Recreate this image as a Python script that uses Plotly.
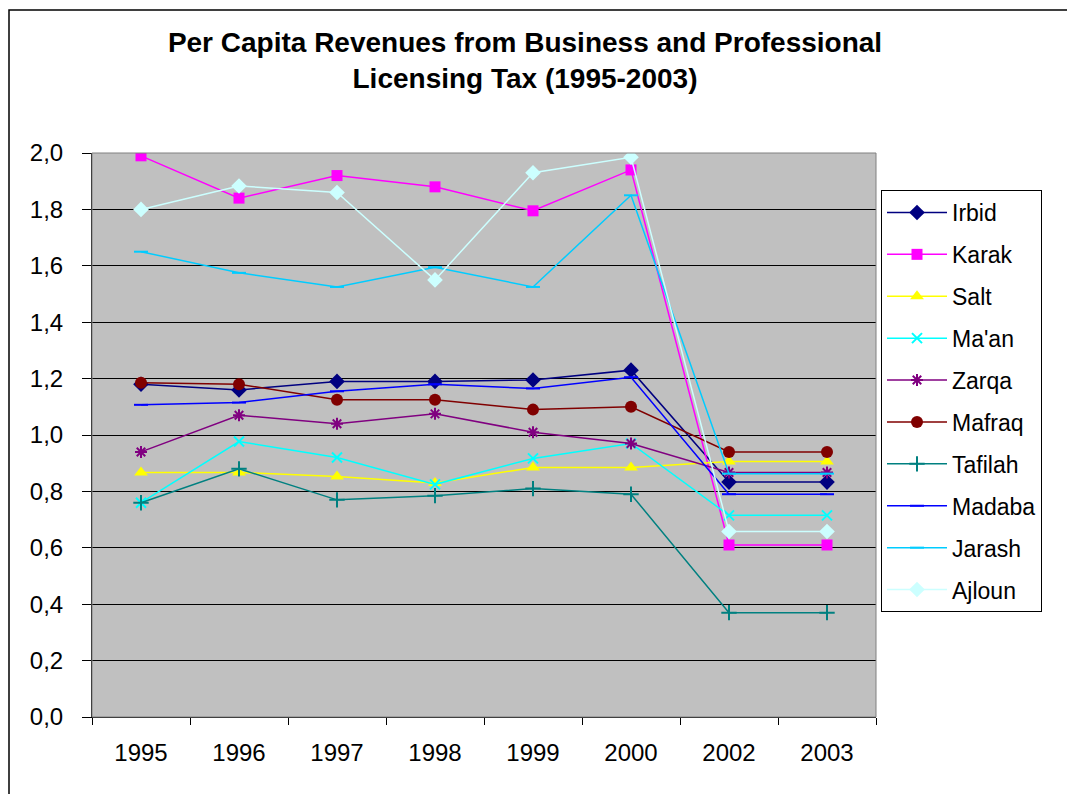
import plotly.graph_objects as go

years = ["1995", "1996", "1997", "1998", "1999", "2000", "2002", "2003"]

irbid   = [1.18, 1.16, 1.19, 1.19, 1.195, 1.23, 0.833, 0.833]
karak   = [1.99, 1.84, 1.92, 1.88, 1.795, 1.94, 0.61, 0.61]
salt    = [0.867, 0.867, 0.853, 0.83, 0.885, 0.885, 0.906, 0.906]
maan    = [0.76, 0.977, 0.92, 0.825, 0.917, 0.97, 0.715, 0.715]
zarqa   = [0.94, 1.07, 1.04, 1.075, 1.01, 0.97, 0.867, 0.867]
mafraq  = [1.185, 1.18, 1.125, 1.125, 1.09, 1.10, 0.94, 0.94]
tafilah = [0.76, 0.88, 0.77, 0.785, 0.81, 0.79, 0.37, 0.37]
madaba  = [1.107, 1.115, 1.155, 1.18, 1.165, 1.205, 0.79, 0.79]
jarash  = [1.65, 1.575, 1.525, 1.595, 1.525, 1.85, 0.863, 0.863]
ajloun  = [1.80, 1.883, 1.86, 1.55, 1.93, 1.985, 0.658, 0.658]

series = [
    ("Irbid", irbid, "#000080", "diamond", 12),
    ("Karak", karak, "#FF00FF", "square", 11),
    ("Salt", salt, "#FFFF00", "triangle-up", 12),
    ("Ma'an", maan, "#00FFFF", "x-thin-open", 10),
    ("Zarqa", zarqa, "#800080", "asterisk-open", 10),
    ("Mafraq", mafraq, "#800000", "circle", 12),
    ("Tafilah", tafilah, "#008080", "cross-thin-open", 11),
    ("Madaba", madaba, "#0000FF", "line-ew-open", 10),
    ("Jarash", jarash, "#00CCFF", "line-ew-open", 10),
    ("Ajloun", ajloun, "#CCFFFF", "diamond", 12),
]

fig = go.Figure()
for i, (name, vals, col, sym, sz) in enumerate(series):
    open_sym = sym.endswith("-open")
    fig.add_trace(go.Scatter(
        x=years, y=vals, name=name, mode="lines+markers",
        line=dict(color=col, width=1.5),
        marker=dict(symbol=sym, size=sz, color=col,
                    line=dict(color=col, width=2 if open_sym else 0)),
        legendgroup=f"g{i}",
    ))

OFF = 8  # page body margin
W, H = 1075, 794
L, R, T, B = 92 - OFF, 876 - OFF, 153 - OFF, 717 - OFF
pw, ph = R - L, B - T
def px(x):
    return (x - OFF - L) / pw
def py(y):
    return (B - (y - OFF)) / ph

FONT = "Liberation Sans, Arial, sans-serif"

fig.update_layout(
    width=W, height=H,
    margin=dict(l=L, r=W - R, t=T, b=H - B),
    paper_bgcolor="white",
    plot_bgcolor="#C0C0C0",
    separators=",.",
    font=dict(family=FONT, size=23, color="black"),
    title=dict(
        text="<b>Per Capita Revenues from Business and Professional<br>Licensing Tax (1995-2003)</b>",
        x=(525 - OFF) / W, xanchor="center", y=1 - (52 - OFF) / H, yanchor="middle",
        font=dict(size=28, family=FONT),
    ),
    showlegend=True,
    legend=dict(
        x=px(881), y=py(190), xanchor="left", yanchor="top",
        bordercolor="black", borderwidth=1, bgcolor="white",
        font=dict(size=23), tracegroupgap=9,
        itemwidth=60,
    ),
    xaxis=dict(
        type="category", showgrid=False, showline=True, linecolor="black",
        ticks="outside", tickson="boundaries", ticklen=7, tickcolor="black",
        range=[-0.5, 7.5], ticklabelstandoff=14, tickfont=dict(size=24),
    ),
    yaxis=dict(
        range=[0, 2.0], dtick=0.2, tickformat=".1f", showgrid=True,
        gridcolor="black", gridwidth=1, showline=True, linecolor="black",
        ticks="outside", ticklen=9, tickcolor="black", zeroline=False,
        ticklabelstandoff=14, tickfont=dict(size=24),
    ),
    shapes=[
        dict(type="rect", xref="paper", yref="paper",
             x0=0, x1=1, y0=0, y1=1, line=dict(color="#808080", width=1)),
        dict(type="rect", xref="paper", yref="paper",
             x0=px(OFF + 1), x1=px(1074), y0=py(800), y1=py(10),
             line=dict(color="black", width=1.5)),
    ],
)

fig.write_html("out.html")
